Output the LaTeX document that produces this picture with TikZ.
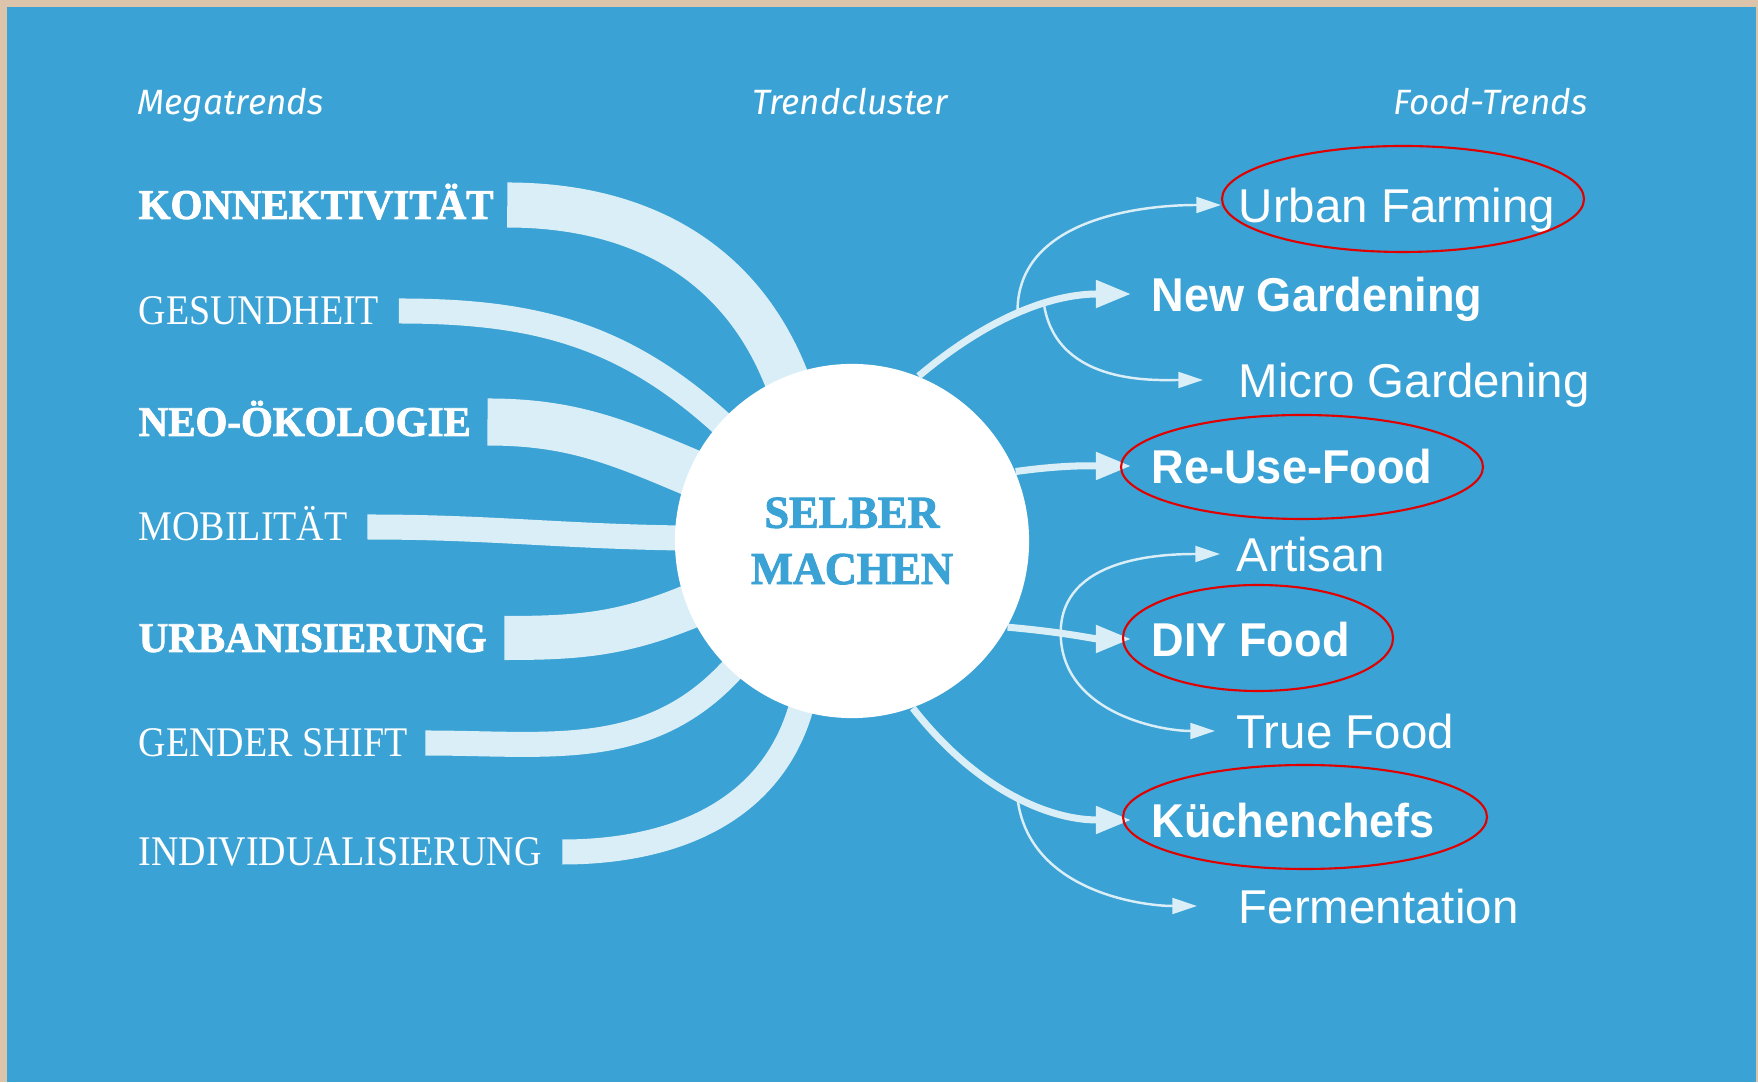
\documentclass[tikz,border=0pt]{standalone}
\usepackage{fontspec}
\usepackage{tikz}
\usetikzlibrary{arrows.meta,backgrounds,positioning}
\setmainfont{Liberation Serif}
\newfontfamily\megafont{Liberation Serif}[FakeStretch=0.9]
\newfontfamily\megaboldfont{Liberation Serif}[FakeStretch=0.97,FakeBold=2]
\newfontfamily\trendfont{Liberation Sans}
\newfontfamily\trendboldfont{Liberation Sans}[FakeStretch=0.95]
\newfontfamily\headfont{Fira Sans}
\definecolor{frame}{HTML}{DBC4A9}
\definecolor{sky}{HTML}{3AA2D4}
\definecolor{pale}{HTML}{DAEEF8}
\definecolor{marker}{HTML}{E00000}
\tikzset{%
    header/.style={%
        font=\headfont\itshape\fontsize{10}{12}\selectfont, text=white, inner sep=0pt, text height=6.9pt, text depth=0pt
    },
    megatrend/.style={%
        font=\megafont\fontsize{12}{14}\selectfont, text=white, anchor=west, inner sep=0pt, text height=7.9pt, text depth=0pt
    },
    megatrend_bold/.style={%
        megatrend, font=\megaboldfont\bfseries\fontsize{12}{14}\selectfont
    },
    cluster/.style={%
        circle, fill=white, minimum size=3.54cm, inner sep=0pt, align=center, text=sky,
        font=\megaboldfont\bfseries\fontsize{13}{16}\selectfont
    },
    food_trend/.style={%
        font=\trendfont\fontsize{13.5}{16}\selectfont, text=white, anchor=west, inner sep=0pt, text height=9.7pt, text depth=0pt
    },
    food_trend_bold/.style={%
        food_trend, font=\trendboldfont\bfseries\fontsize{13.5}{16}\selectfont
    },
    band/.style={%
        draw=pale, line width=#1, line cap=butt, line join=round
    },
    main_arrow/.style={%
        draw=pale, line width=2pt, -{Triangle[length=10pt,width=7.5pt]}, shorten >=0.2cm
    },
    side_arrow/.style={%
        draw=pale, line width=0.7pt, -{Triangle[length=7pt,width=4.5pt]}
    },
    highlight/.style={%
        draw=marker, line width=0.6pt
    },
}

\begin{document}
\begin{tikzpicture}[x=0.01cm, y=0.01cm]
      \useasboundingbox (0,0) rectangle (1758,1082);

      % column heads
      \node[header, anchor=west] (megahead) at (137,980) {Megatrends};
      \node[header] (clusterhead) at (850,980) {Trendcluster};
      \node[header, anchor=east] (foodhead) at (1588,980) {Food-Trends};

      % megatrends
      \node[megatrend_bold] (konn) at (138,877) {KONNEKTIVITÄT};
      \node[megatrend] (gesund) at (138,771) {GESUNDHEIT};
      \node[megatrend_bold] (neo) at (138,660) {NEO-ÖKOLOGIE};
      \node[megatrend] (mobil) at (138,555) {MOBILITÄT};
      \node[megatrend_bold] (urbanis) at (138,444) {URBANISIERUNG};
      \node[megatrend] (gender) at (138,339) {GENDER SHIFT};
      \node[megatrend] (indiv) at (138,230) {INDIVIDUALISIERUNG};

      \node[cluster] (hub) at (852,541) {SELBER\\MACHEN};

      % food trends
      \node[food_trend] (urbfarm) at (1238,877) {Urban Farming};
      \node[food_trend_bold] (newgard) at (1151,788) {New Gardening};
      \node[food_trend] (microgard) at (1238,702) {Micro Gardening};
      \node[food_trend_bold] (reuse) at (1151,616) {Re-Use-Food};
      \node[food_trend] (artisan) at (1236,528) {Artisan};
      \node[food_trend_bold] (diy) at (1151,443) {DIY Food};
      \node[food_trend] (truefood) at (1236,351) {True Food};
      \node[food_trend_bold] (kuech) at (1151,262) {Küchenchefs};
      \node[food_trend] (ferment) at (1238,176) {Fermentation};

      \begin{scope}[on background layer]
        \fill[frame] (0,0) rectangle (1758,1082);
        \fill[sky] (7,0) rectangle (1756,1075);
        \draw[band=0.45cm] ([xshift=0.13cm]konn.east) to[out=0,in=112] (hub.112) -- (hub.center);
        \draw[band=0.25cm] ([xshift=0.19cm]gesund.east) to[out=0,in=138] (hub.138) -- (hub.center);
        \draw[band=0.47cm] ([xshift=0.16cm]neo.east) to[out=0,in=157] (hub.157) -- (hub.center);
        \draw[band=0.25cm] ([xshift=0.19cm]mobil.east) to[out=0,in=179] (hub.179) -- (hub.center);
        \draw[band=0.44cm] ([xshift=0.17cm]urbanis.east) to[out=0,in=202] (hub.202) -- (hub.center);
        \draw[band=0.25cm] ([xshift=0.17cm]gender.east) to[out=0,in=227] (hub.227) -- (hub.center);
        \draw[band=0.25cm] ([xshift=0.2cm]indiv.east) to[out=0,in=253] (hub.253) -- (hub.center);
      \end{scope}

      \draw[main_arrow] (hub.68) to[out=40,in=180] coordinate[pos=0.46] (ngup) coordinate[pos=0.58] (ngdown) (newgard.west);
      \draw[side_arrow, shorten >=0.17cm] (ngup) to[out=92,in=180] (urbfarm.west);
      \draw[side_arrow, shorten >=0.35cm] (ngdown) to[out=-80,in=180] (microgard.west);
      \draw[main_arrow] (hub.23) to[out=8,in=180] (reuse.west);
      \draw[main_arrow] (hub.-29) to[out=-5,in=180] coordinate[pos=0.36] (diymid) (diy.west);
      \draw[side_arrow, shorten >=0.16cm] (diymid) to[out=90,in=180] (artisan.west);
      \draw[side_arrow, shorten >=0.21cm] (diymid) to[out=-90,in=180] (truefood.west);
      \draw[main_arrow] (hub.-70) to[out=-52,in=180] coordinate[pos=0.5] (kuchmid) (kuech.west);
      \draw[side_arrow, shorten >=0.41cm] (kuchmid) to[out=-85,in=180] (ferment.west);

      % marks round the chosen trends
      \draw[highlight] (1403,883) ellipse [x radius=181, y radius=53];
      \draw[highlight] (1302,615) ellipse [x radius=181, y radius=52];
      \draw[highlight] (1258,444) ellipse [x radius=135, y radius=53];
      \draw[highlight] (1305,265) ellipse [x radius=182, y radius=52];
\end{tikzpicture}
\end{document}
